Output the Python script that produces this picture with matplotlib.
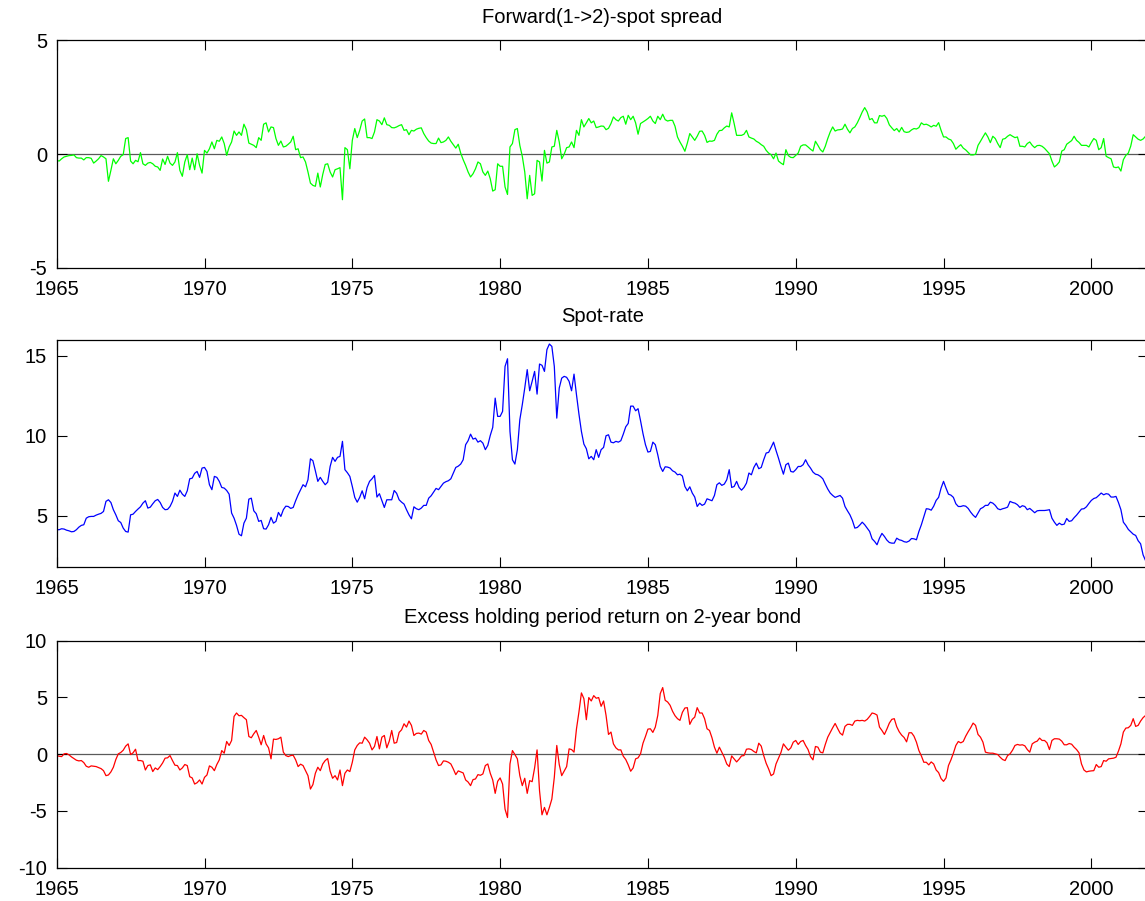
import numpy as np
import matplotlib
matplotlib.use("Agg")
import matplotlib.pyplot as plt

# Monthly observations, January 1965 onward
start_year = 1965

spread = [
    -0.28, -0.31, -0.21, -0.13, -0.10, -0.07, -0.06, -0.04, -0.16, -0.18, -0.18, -0.26,
    -0.16, -0.16, -0.19, -0.40, -0.31, -0.21, -0.07, -0.13, -0.21, -1.20, -0.72, -0.21,
    -0.43, -0.28, -0.10, -0.03, 0.68, 0.72, -0.31, -0.43, -0.28, -0.34, 0.06, -0.43,
    -0.50, -0.40, -0.37, -0.43, -0.54, -0.57, -0.72, -0.22, -0.46, -0.10, -0.40, -0.50,
    -0.35, 0.06, -0.72, -0.98, -0.35, -0.03, -0.69, -0.18, -0.69, 0.01, -0.50, -0.84,
    0.16, 0.04, 0.23, 0.53, 0.23, 0.60, 0.56, 0.75, 0.46, -0.06, 0.31, 0.53,
    1.01, 0.82, 0.97, 0.82, 1.31, 1.07, 0.48, 0.43, 0.38, 0.28, 0.72, 0.60,
    1.31, 1.37, 0.97, 1.19, 1.16, 0.68, 0.38, 0.57, 0.31, 0.34, 0.43, 0.53,
    0.78, 0.19, 0.23, -0.16, -0.13, -0.35, -0.79, -1.28, -1.38, -1.42, -0.84, -1.45,
    -0.90, -0.46, -0.43, -0.79, -1.01, -0.69, -0.65, -0.60, -2.01, 0.28, 0.19, -0.65,
    0.60, 1.12, 0.72, 1.04, 1.45, 1.54, 0.72, 0.72, 0.68, 0.97, 1.51, 1.45,
    1.29, 1.59, 1.29, 1.26, 1.16, 1.15, 1.19, 1.25, 1.29, 1.04, 1.07, 0.85,
    1.04, 1.01, 1.09, 1.13, 1.15, 0.90, 0.72, 0.57, 0.48, 0.46, 0.46, 0.70,
    0.50, 0.53, 0.60, 0.75, 0.56, 0.41, 0.26, 0.43, 0.04, -0.25, -0.50, -0.79,
    -1.01, -0.87, -0.65, -0.35, -0.43, -0.79, -0.94, -0.75, -1.09, -1.63, -1.57, -0.43,
    -0.54, -0.54, -1.45, -1.78, 0.31, 0.46, 1.07, 1.12, 0.38, -0.10, -0.79, -1.97,
    -0.94, -1.82, -1.75, -0.28, -0.35, -1.19, 0.16, -0.40, -0.35, 0.31, 0.34, 1.04,
    0.53, -0.21, -0.01, 0.28, 0.31, 0.53, 0.28, 1.04, 0.82, 1.51, 1.19, 1.37,
    1.56, 1.37, 1.45, 1.16, 1.19, 1.23, 1.22, 1.07, 1.13, 1.34, 1.63, 1.51,
    1.45, 1.60, 1.66, 1.31, 1.70, 1.51, 1.66, 1.37, 0.87, 1.34, 1.41, 1.48,
    1.56, 1.66, 1.45, 1.34, 1.66, 1.51, 1.75, 1.51, 1.45, 1.48, 1.48, 1.22,
    0.75, 0.53, 0.34, 0.12, 0.48, 0.90, 0.75, 0.60, 0.78, 1.00, 1.01, 0.82,
    0.51, 0.57, 0.56, 0.60, 0.87, 1.03, 1.04, 1.15, 1.23, 1.19, 1.81, 1.34,
    0.82, 0.82, 0.82, 0.87, 1.04, 0.75, 0.70, 0.66, 0.56, 0.50, 0.41, 0.34,
    0.16, 0.04, -0.03, -0.21, 0.04, -0.31, -0.40, -0.47, 0.19, -0.07, -0.15, -0.16,
    -0.06, 0.04, 0.34, 0.40, 0.40, 0.31, 0.21, 0.13, 0.56, 0.38, 0.19, 0.09,
    0.34, 0.68, 0.97, 1.19, 1.01, 1.06, 1.07, 1.10, 1.31, 1.09, 0.93, 1.12,
    1.19, 1.37, 1.60, 1.85, 2.04, 1.85, 1.51, 1.56, 1.37, 1.37, 1.69, 1.66,
    1.70, 1.56, 1.28, 1.15, 1.03, 1.12, 0.97, 1.17, 0.98, 0.95, 0.97, 1.06,
    1.12, 1.10, 1.16, 1.37, 1.29, 1.31, 1.26, 1.19, 1.26, 1.22, 1.38, 1.04,
    0.75, 0.75, 0.66, 0.62, 0.46, 0.21, 0.32, 0.41, 0.26, 0.18, 0.07, -0.04,
    -0.04, -0.01, 0.38, 0.56, 0.75, 0.93, 0.75, 0.50, 0.78, 0.68, 0.46, 0.28,
    0.65, 0.68, 0.78, 0.85, 0.78, 0.72, 0.75, 0.34, 0.34, 0.31, 0.46, 0.53,
    0.38, 0.28, 0.37, 0.38, 0.34, 0.25, 0.13, 0.01, -0.31, -0.57, -0.48, -0.35,
    0.13, 0.19, 0.43, 0.51, 0.59, 0.78, 0.60, 0.51, 0.38, 0.38, 0.38, 0.31,
    0.51, 0.68, 0.60, 0.19, 0.28, 0.68, -0.10, -0.16, -0.21, -0.57, -0.60, -0.57,
    -0.75, -0.25, -0.06, 0.04, 0.35, 0.85, 0.75, 0.65, 0.60, 0.66, 0.78, 0.78,
]

spot = [
    4.13, 4.13, 4.19, 4.17, 4.10, 4.06, 4.00, 4.02, 4.13, 4.29, 4.40, 4.44,
    4.85, 4.94, 4.96, 4.96, 5.04, 5.10, 5.15, 5.27, 5.90, 6.00, 5.83, 5.38,
    5.06, 4.69, 4.58, 4.23, 4.02, 3.98, 5.06, 5.10, 5.27, 5.42, 5.56, 5.79,
    5.94, 5.48, 5.54, 5.75, 5.94, 6.02, 5.83, 5.52, 5.38, 5.40, 5.58, 5.90,
    6.42, 6.21, 6.60, 6.35, 6.21, 6.56, 7.31, 7.35, 7.65, 7.77, 7.40, 7.98,
    8.02, 7.77, 6.94, 6.63, 7.46, 7.40, 7.15, 6.77, 6.73, 6.58, 6.35, 5.17,
    4.85, 4.40, 3.85, 3.75, 4.54, 4.85, 6.04, 6.10, 5.31, 5.13, 4.65, 4.71,
    4.19, 4.17, 4.44, 4.90, 4.54, 4.65, 5.21, 4.96, 5.38, 5.60, 5.58, 5.46,
    5.52, 5.94, 6.31, 6.63, 6.94, 6.81, 7.25, 8.56, 8.44, 7.81, 7.15, 7.40,
    7.15, 6.94, 7.10, 8.08, 8.65, 8.40, 8.65, 8.71, 9.65, 7.88, 7.69, 7.46,
    6.83, 6.15, 5.85, 6.15, 6.56, 6.06, 6.77, 7.15, 7.31, 7.52, 6.17, 6.38,
    5.94, 5.52, 6.00, 6.00, 6.00, 6.58, 6.40, 6.00, 5.85, 5.73, 5.38, 5.06,
    4.81, 5.56, 5.44, 5.38, 5.48, 5.65, 5.65, 6.10, 6.25, 6.48, 6.71, 6.63,
    6.83, 7.04, 7.13, 7.19, 7.31, 7.67, 8.02, 8.10, 8.23, 8.50, 9.44, 9.69,
    10.10, 9.79, 9.85, 9.60, 9.69, 9.54, 9.13, 9.40, 10.02, 10.52, 12.35, 11.21,
    11.21, 11.52, 14.33, 14.81, 10.27, 8.50, 8.23, 9.13, 11.00, 11.94, 12.98, 14.13,
    12.81, 13.40, 14.02, 12.60, 14.48, 14.40, 14.02, 15.38, 15.73, 15.58, 14.33, 11.10,
    12.98, 13.60, 13.71, 13.65, 13.40, 12.81, 13.85, 12.56, 11.35, 10.27, 9.48, 9.19,
    8.56, 8.71, 8.50, 9.13, 8.65, 9.13, 9.27, 10.00, 10.06, 9.60, 9.56, 9.65,
    9.60, 9.69, 10.10, 10.56, 10.77, 11.85, 11.85, 11.56, 11.69, 10.94, 10.13, 9.44,
    8.98, 9.02, 9.60, 9.44, 8.81, 8.08, 7.77, 8.06, 8.04, 7.98, 7.81, 7.73,
    7.56, 7.60, 7.48, 6.83, 6.56, 6.81, 6.42, 6.17, 5.58, 5.79, 5.65, 5.73,
    6.06, 6.00, 5.94, 6.27, 6.94, 7.06, 6.90, 6.98, 7.25, 7.88, 6.77, 6.83,
    7.15, 6.77, 6.60, 6.77, 7.04, 7.67, 7.56, 8.02, 8.29, 7.94, 8.02, 8.50,
    8.92, 8.96, 9.27, 9.60, 9.08, 8.60, 8.08, 7.60, 8.19, 8.29, 7.77, 7.73,
    7.88, 8.08, 8.08, 8.19, 8.50, 8.19, 7.98, 7.73, 7.60, 7.56, 7.46, 7.31,
    6.98, 6.67, 6.42, 6.27, 6.15, 6.21, 6.27, 6.10, 5.58, 5.31, 5.06, 4.71,
    4.23, 4.27, 4.42, 4.60, 4.44, 4.23, 4.02, 3.56, 3.40, 3.19, 3.60, 3.90,
    3.71, 3.48, 3.33, 3.29, 3.29, 3.60, 3.50, 3.46, 3.38, 3.35, 3.42, 3.58,
    3.56, 3.50, 4.02, 4.44, 4.94, 5.44, 5.42, 5.35, 5.60, 5.96, 6.15, 6.73,
    7.15, 6.73, 6.35, 6.29, 6.15, 5.75, 5.58, 5.58, 5.63, 5.60, 5.46, 5.23,
    5.04, 4.90, 5.17, 5.44, 5.52, 5.65, 5.65, 5.85, 5.79, 5.65, 5.44, 5.38,
    5.44, 5.48, 5.54, 5.90, 5.83, 5.79, 5.69, 5.52, 5.63, 5.58, 5.38, 5.46,
    5.33, 5.19, 5.31, 5.33, 5.33, 5.33, 5.35, 5.38, 4.85, 4.60, 4.40, 4.54,
    4.44, 4.48, 4.83, 4.65, 4.69, 4.88, 5.04, 5.23, 5.42, 5.44, 5.56, 5.77,
    5.96, 6.08, 6.13, 6.27, 6.42, 6.31, 6.38, 6.35, 6.17, 6.17, 6.21, 5.83,
    5.38, 4.60, 4.40, 4.15, 4.00, 3.85, 3.77, 3.44, 3.25, 2.56, 2.20, 1.85,
]

excess = [
    -0.12, -0.18, -0.21, 0.03, 0.06, -0.06, -0.24, -0.38, -0.53, -0.59, -0.56, -0.74,
    -1.06, -1.15, -1.03, -1.06, -1.09, -1.18, -1.27, -1.45, -1.89, -1.83, -1.56, -1.15,
    -0.47, 0.03, 0.15, 0.35, 0.71, 0.91, -0.03, 0.12, 0.44, -0.56, -0.56, -0.62,
    -1.39, -1.00, -0.94, -1.53, -1.21, -1.36, -1.09, -0.77, -0.35, -0.32, -0.12, -0.56,
    -0.97, -1.00, -1.39, -1.21, -0.91, -1.00, -1.98, -2.09, -2.63, -2.51, -2.27, -2.63,
    -2.04, -1.83, -1.03, -1.15, -1.45, -0.91, -0.50, 0.32, 0.09, 1.12, 0.77, 1.21,
    3.33, 3.63, 3.39, 3.42, 3.22, 3.04, 1.56, 1.45, 1.80, 2.09, 1.50, 0.83,
    1.65, 0.91, 0.56, -0.41, 1.33, 1.30, 1.36, 1.50, 0.18, -0.12, -0.21, -0.12,
    -0.09, -0.50, -1.09, -0.88, -1.00, -1.45, -1.89, -3.07, -2.68, -1.68, -1.15, -1.45,
    -0.86, -0.56, -0.38, -1.50, -2.12, -1.89, -2.27, -1.39, -2.77, -1.68, -1.39, -1.53,
    -0.71, 0.38, 0.77, 1.00, 0.97, 1.50, 1.27, 0.97, 0.38, 0.68, 1.56, 0.47,
    1.50, 1.65, 0.56, 1.15, 2.09, 0.97, 1.03, 1.92, 2.15, 2.68, 2.39, 2.92,
    2.54, 1.65, 1.83, 1.86, 1.77, 2.09, 1.95, 1.21, 0.86, 0.18, -0.50, -1.00,
    -0.94, -0.59, -0.62, -0.71, -0.86, -1.30, -1.80, -1.47, -1.56, -1.65, -2.27, -2.45,
    -2.77, -2.24, -2.18, -1.80, -1.86, -1.74, -1.00, -0.86, -1.68, -2.27, -3.45, -2.39,
    -2.09, -2.63, -4.84, -5.58, -0.86, 0.32, -0.03, -0.41, -1.89, -2.77, -2.12, -3.45,
    -2.33, -2.42, -1.21, 0.38, -3.22, -5.34, -4.69, -5.34, -4.69, -3.95, -2.04, 0.77,
    -0.91, -1.89, -1.50, -1.09, 0.47, 0.41, 0.18, 2.24, 3.72, 5.40, 4.90, 3.04,
    4.99, 4.69, 5.16, 4.93, 4.99, 4.22, 4.69, 3.42, 1.74, 1.95, 0.91, 0.56,
    0.38, 0.38, -0.18, -0.47, -0.94, -1.50, -1.21, -0.41, -0.32, 0.03, 0.97, 1.56,
    2.21, 2.24, 1.92, 2.39, 3.42, 5.34, 5.87, 4.75, 4.60, 4.31, 3.78, 3.39,
    3.13, 2.98, 3.69, 4.07, 4.10, 2.63, 3.07, 3.27, 4.10, 3.63, 3.63, 3.13,
    2.24, 2.09, 1.45, 0.62, 0.09, 0.62, 0.18, -0.27, -0.86, -1.09, -0.15, -0.41,
    -0.68, -0.44, -0.15, -0.12, 0.44, 0.47, 0.41, 0.24, 0.12, 0.97, 0.71, -0.12,
    -0.80, -1.30, -1.89, -1.74, -0.86, -0.35, 0.15, 0.91, 0.62, 0.35, 0.56, 1.06,
    1.21, 0.86, 1.12, 1.21, 0.77, 0.41, -0.21, -0.50, 0.68, 0.62, 0.18, 0.12,
    0.86, 1.50, 1.92, 2.33, 2.71, 2.27, 1.86, 1.68, 2.45, 2.63, 2.63, 2.54,
    2.92, 2.98, 2.95, 2.98, 2.92, 3.07, 3.33, 3.63, 3.57, 3.45, 2.39, 2.09,
    1.74, 2.21, 2.74, 3.07, 3.13, 2.42, 1.98, 1.68, 1.47, 1.09, 1.89, 1.89,
    1.59, 1.06, 0.32, -0.15, -0.71, -0.71, -0.94, -0.68, -0.86, -1.39, -1.62, -2.15,
    -2.39, -2.09, -1.00, -0.50, 0.09, 0.77, 1.12, 1.00, 1.12, 1.59, 1.98, 2.33,
    2.74, 2.54, 1.74, 1.50, 1.06, 0.18, 0.12, 0.09, 0.09, 0.03, -0.03, -0.27,
    -0.47, -0.56, -0.12, 0.03, 0.35, 0.77, 0.86, 0.80, 0.83, 0.74, 0.41, 0.18,
    0.91, 1.06, 1.15, 1.42, 1.21, 1.21, 1.00, 0.41, 1.21, 1.36, 1.36, 1.33,
    1.15, 0.83, 0.83, 0.94, 0.88, 0.62, 0.41, 0.12, -0.86, -1.39, -1.56, -1.50,
    -1.47, -1.45, -0.91, -1.15, -1.09, -0.56, -0.62, -0.41, -0.38, -0.35, -0.27, 0.27,
    0.91, 1.95, 2.30, 2.33, 2.54, 3.13, 2.45, 2.54, 2.92, 3.22, 3.42, 3.57,
]

titles = [
    "Forward(1->2)-spot spread",
    "Spot-rate",
    "Excess holding period return on 2-year bond",
]
x_ticks = [1965, 1970, 1975, 1980, 1985, 1990, 1995, 2000]
y_ticks = [[-5, 0, 5], [5, 10, 15], [-10, -5, 0, 5, 10]]
y_limits = [(-5, 5), (1.8, 16.0), (-10, 10)]
colors = ["#00ff00", "#0000ff", "#ff0000"]
zero_line = [True, False, True]

plt.rcParams["font.family"] = ["Liberation Sans", "DejaVu Sans"]

W, H = 1145, 901
fig = plt.figure(figsize=(W / 100, H / 100), dpi=100)

# axes boxes in pixels: left, top, right, bottom
boxes = [(56.7, 40.3, 1148.0, 267.7),
         (56.7, 339.7, 1148.0, 567.0),
         (56.7, 640.7, 1148.0, 867.7)]

series = [spread, spot, excess]
for i, (vals, box) in enumerate(zip(series, boxes)):
    l, t, r, b = box
    ax = fig.add_axes([l / W, (H - b) / H, (r - l) / W, (b - t) / H])
    vals = np.asarray(vals, dtype=float)
    dates = start_year + np.arange(len(vals)) / 12.0
    if zero_line[i]:
        ax.axhline(0, color="#5a5a5a", lw=0.9, zorder=1)
    ax.plot(dates, vals, color=colors[i], lw=0.9, zorder=2)
    ax.set_xlim(start_year, start_year + 443 / 12.0)
    ax.set_ylim(*y_limits[i])
    ax.set_xticks(x_ticks)
    ax.set_xticklabels([str(v) for v in x_ticks])
    ax.set_yticks(y_ticks[i])
    ax.set_yticklabels([str(v) for v in y_ticks[i]])
    ax.tick_params(direction="in", length=7, width=0.8, top=True, right=True,
                   labelsize=14.5, colors="black")
    ax.tick_params(axis="x", pad=8.5)
    ax.tick_params(axis="y", pad=7)
    for s in ax.spines.values():
        s.set_linewidth(0.9)
        s.set_color("black")
    ax.set_title(titles[i], fontsize=14.5, pad=12.5)

fig.savefig("out.png", dpi=100)
